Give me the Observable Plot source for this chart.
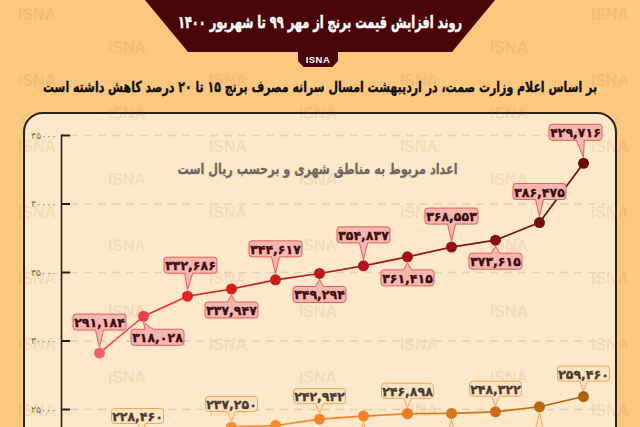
<!DOCTYPE html>
<html><head><meta charset="utf-8">
<script src="https://cdn.jsdelivr.net/npm/d3@7"></script>
<script src="https://cdn.jsdelivr.net/npm/@observablehq/plot@0.6"></script>
<style>
html,body{margin:0;padding:0;background:#fcc77f;}
#wrap{position:relative;width:640px;height:427px;overflow:hidden;background:#fcc77f;font-family:"DejaVu Sans",sans-serif;}
#panel{position:absolute;left:23px;top:112px;width:590px;height:400px;background:#fde8c9;border:2px solid #2b2118;border-radius:20px;}
.wm{position:absolute;font-family:"Liberation Sans",Arial,sans-serif;font-weight:bold;font-size:16px;color:rgba(140,95,50,0.10);transform:translate(-50%,-50%);white-space:nowrap;}
#banner{position:absolute;left:145px;top:0;width:350px;height:52px;background:#4a0306;clip-path:polygon(0 0,100% 0,87.7% 100%,12.3% 100%);}
#tag{position:absolute;left:298px;top:46px;width:40px;height:21px;background:#4a0306;clip-path:polygon(0 0,100% 0,100% 72%,86% 100%,14% 100%,0 72%);color:#fff;font-family:"Liberation Sans",Arial,sans-serif;font-weight:bold;font-size:9.5px;text-align:center;line-height:27px;letter-spacing:0.5px;}
.line{position:absolute;left:320px;white-space:nowrap;direction:rtl;font-weight:bold;transform-origin:0 50%;}
#title{top:12px;color:#fff;font-size:17px;-webkit-text-stroke:0.5px #fff;}
#subtitle{top:78px;font-size:15px;color:#111;-webkit-text-stroke:0.4px #111;}
#chart{position:absolute;left:0;top:100px;}
</style></head>
<body>
<div id="wrap">
  <div id="panel"></div>
  <div id="wms"></div>
  <div id="banner"></div>
  <div id="tag">ISNA</div>
  <div id="title" class="line" data-w="284">روند افزایش قیمت برنج از مهر ۹۹ تا شهریور ۱۴۰۰</div>
  <div id="subtitle" class="line" data-w="554">بر اساس اعلام وزارت صمت، در اردیبهشت امسال سرانه مصرف برنج ۱۵ تا ۲۰ درصد کاهش داشته است</div>
  <div id="chart"></div>
</div>
<script>
// ---- data ----
const months = ["مهر ۹۹","آبان","آذر","دی","بهمن","اسفند","فروردین ۱۴۰۰","اردیبهشت","خرداد","تیر","مرداد","شهریور"];
const priceA = [291184,318028,332686,337947,344617,349294,354837,361415,368553,373615,386475,429716];
const priceB = [215300,228460,233100,237250,238300,242942,245200,246898,247100,248322,252000,259460];
const sideA = ["top","bottom","top","bottom","top","bottom","top","bottom","top","bottom","top","top"];
const sideB = ["bottom","top","bottom","top","bottom","top","bottom","top","bottom","top","bottom","top"];
const yTicks = [250000,300000,350000,400000,450000];
const note = "اعداد مربوط به مناطق شهری و برحسب ریال است";

// ---- styling / layout tweaks (not data) ----
const nudgeA = {"آبان": 14, "شهریور": -8, "آذر": 3};
const nudgeB = {"آبان": -6};

// ---- helpers ----
const faDigits = "۰۱۲۳۴۵۶۷۸۹";
const fa = s => String(s).replace(/\d/g, d => faDigits[d]);
const fmt = v => fa(d3.format(",")(v));

// watermarks
(function(){
  const box = document.getElementById("wms");
  for (let r = 0; r < 13; r++) {
    const y = 15 + 33 * r;
    const x0 = r % 2 === 0 ? 37 : 127;
    for (let x = x0; x < 630; x += 191) {
      const s = document.createElement("span");
      s.className = "wm"; s.textContent = "ISNA";
      s.style.left = x + "px"; s.style.top = y + "px";
      box.appendChild(s);
    }
  }
})();

// fit heading widths, centred on x = 320
document.querySelectorAll(".line").forEach(s => {
  const w = s.getBoundingClientRect().width;
  const k = (+s.dataset.w) / w;
  s.style.transform = `translateX(${-s.dataset.w / 2}px) scaleX(${k})`;
});

const colA = d3.scaleLinear().domain([0, 2, 11]).range(["#f4606a", "#e42020", "#6a0a10"]);
const colB = d3.scaleLinear().domain([0, 6, 11]).range(["#fb9a40", "#f58223", "#ad600e"]);

const rowsA = months.map((m, i) => ({month: m, value: priceA[i], side: sideA[i], shift: nudgeA[m] || 0, color: colA(i)}));
const rowsB = months.map((m, i) => ({month: m, value: priceB[i], side: sideB[i], shift: nudgeB[m] || 0, color: colB(i)}));
const segs = rows => rows.slice(1).map((d, i) => ({m1: rows[i].month, v1: rows[i].value, m2: d.month, v2: d.value, color: d3.interpolateRgb(rows[i].color, d.color)(0.5)}));

function callout(side, w, h, off, base, sx) {
  const s = side === "top" ? -1 : 1;
  return {draw(ctx) {
    const r = 3;
    const yn = s * (off - h / 2), yf = s * (off + h / 2);
    const tip = s * 6;
    const L = sx - w / 2, R = sx + w / 2;
    const b1 = Math.max(L + r + 1, Math.min(R - r - 1 - base, sx * 0.4 - base / 2));
    const b2 = b1 + base;
    ctx.moveTo(L + r, yf);
    ctx.lineTo(R - r, yf);
    ctx.arcTo(R, yf, R, yf - s * r, r);
    ctx.lineTo(R, yn + s * r);
    ctx.arcTo(R, yn, R - r, yn, r);
    ctx.lineTo(b2, yn);
    ctx.lineTo(0, tip);
    ctx.lineTo(b1, yn);
    ctx.lineTo(L + r, yn);
    ctx.arcTo(L, yn, L, yn + s * r, r);
    ctx.lineTo(L, yf - s * r);
    ctx.arcTo(L, yf, L + r, yf, r);
    ctx.closePath();
  }};
}
const offA = {top: 31, bottom: 21}, offB = {top: 23, bottom: 30};
const FONT = "DejaVu Sans";

function labelMarks(rows, offs, fill, stroke, textFill, w, h) {
  const groups = d3.groups(rows, d => d.side, d => d.shift);
  return groups.flatMap(([side, bySh]) => bySh.flatMap(([sx, data]) => [
    Plot.dot(data, {x: "month", y: "value", symbol: callout(side, w, h, offs[side], 8, sx), r: 5, fill, stroke, strokeWidth: 1}),
    Plot.text(data, {x: "month", y: "value", text: d => fmt(d.value), dx: sx, dy: (side === "top" ? -offs[side] : offs[side]) + 1, fill: textFill, stroke: textFill, strokeWidth: 0.35, fontFamily: FONT, fontWeight: "bold", fontSize: 12.5})
  ]));
}

const plot = Plot.plot({
  width: 640, height: 327,
  marginLeft: 61, marginRight: 35, marginTop: 35, marginBottom: 0,
  style: {background: "transparent", overflow: "hidden"},
  x: {type: "point", domain: months, range: [96, 585], padding: 0, axis: null},
  y: {domain: [250000, 450000], range: [309, 35]},
  marks: [
    Plot.ruleY(yTicks, {insetLeft: 9, stroke: "#e4d0b4", strokeWidth: 1.3, strokeDasharray: "8,6"}),
    Plot.tickY(yTicks, {insetRight: 535, stroke: "#2a2018", strokeWidth: 2}),
    Plot.frame({anchor: "left", stroke: "#2a2018", strokeWidth: 1.6}),
    Plot.axisY(yTicks, {anchor: "left", tickSize: 0, tickPadding: 5, tickFormat: d => fa(d / 10), fontSize: 9.5, fill: "#7d6d5d", fontFamily: FONT}),
    Plot.text([note], {frameAnchor: "top", dx: -16, dy: 28, fontFamily: FONT, fontWeight: "bold", fontSize: 15, fill: "#6e6760", stroke: "#6e6760", strokeWidth: 0.3}),
    Plot.link(segs(rowsA), {x1: "m1", y1: "v1", x2: "m2", y2: "v2", stroke: "color", strokeWidth: 1.7}),
    Plot.link(segs(rowsB), {x1: "m1", y1: "v1", x2: "m2", y2: "v2", stroke: "color", strokeWidth: 1.7}),
    ...labelMarks(rowsA, offA, "#f8b6b1", "#e0605a", "#3b0c0c", 53, 16),
    ...labelMarks(rowsB, offB, "#fde3c0", "#f0a55c", "#4a3a2e", 52, 15),
    Plot.dot(rowsA, {x: "month", y: "value", r: 5.5, fill: "color"}),
    Plot.dot(rowsB, {x: "month", y: "value", r: 5.5, fill: "color"})
  ]
});
document.getElementById("chart").appendChild(plot);
// fit the note to the reference width
d3.select(plot).selectAll("text").filter(function(){ return this.textContent === note; })
  .attr("textLength", 280).attr("lengthAdjust", "spacingAndGlyphs");
</script>
</body></html>
